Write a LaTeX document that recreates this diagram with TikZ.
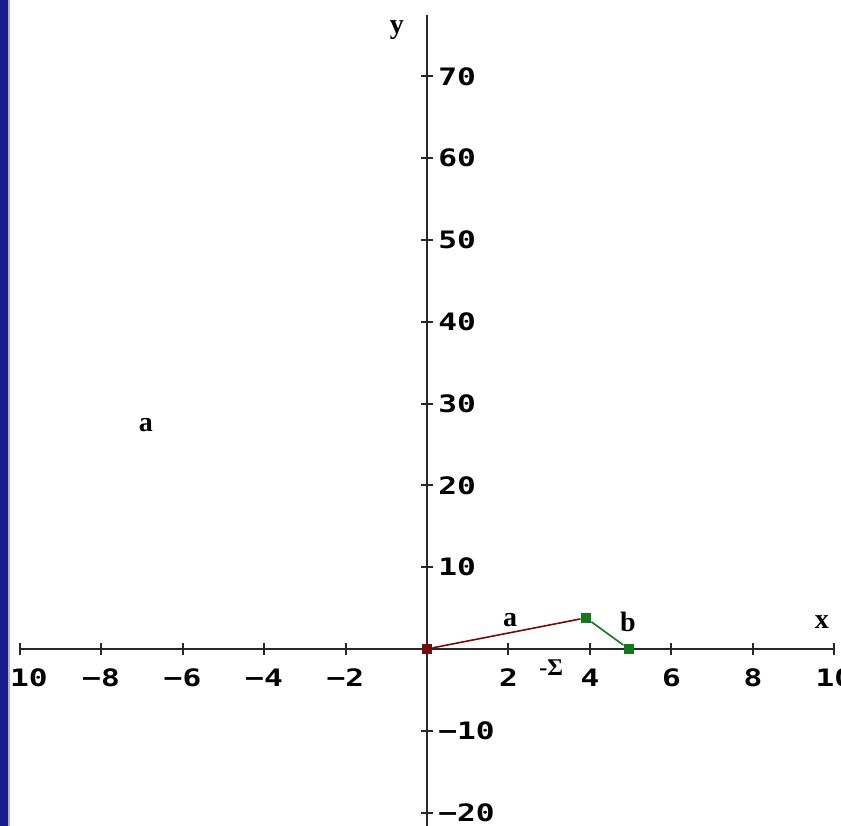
\documentclass[tikz,border=0pt]{standalone}
\usepackage{fontspec}
\usetikzlibrary{positioning}
\newfontfamily\axisfont[FakeStretch=1.3]{DejaVu Sans Mono}
\newfontfamily\varfont{Liberation Serif}
\newcommand\mns{\char"2212\relax}
\definecolor{framblue}{RGB}{22,28,140}
\definecolor{axgray}{RGB}{40,40,40}
\definecolor{vecred}{RGB}{120,10,10}
\definecolor{vecgreen}{RGB}{20,120,30}

\begin{document}
\begin{tikzpicture}[x=20.375pt,y=4.09pt,
  ticklab/.style={font=\axisfont\fontsize{12}{12}\selectfont\bfseries,inner sep=0pt},
  varlab/.style={font=\varfont\fontsize{14}{14}\selectfont\bfseries,inner sep=0pt},
  pt/.style={rectangle,minimum size=5pt,inner sep=0pt}]
\useasboundingbox (-10.479,-21.64) rectangle (10.160,79.34);
% axes
\coordinate (xl) at (-10,0);
\coordinate (xr) at (10,0);
\coordinate (yt) at (0,77.5);
\coordinate (yb) at (0,-21.64);
\draw[axgray,line width=1pt] (xl) -- (xr);
\draw[axgray,line width=1pt] (yb) -- (yt);
\foreach \i in {-10,-8,...,10}
  \draw[axgray,line width=1pt] (\i,0) ++(0,-3pt) -- ++(0,6pt);
\foreach \i in {-10,-8,-6,-4,-2,2,4,6,8,10}
  \node[ticklab] (tx\i) at (\i,-3.55) {\ifnum\i<0 \mns\fi\the\numexpr\ifnum\i<0 -\fi\i\relax};
\foreach \j in {-20,-10,10,20,...,70}
  \draw[axgray,line width=1pt] (0,\j) ++(-3pt,0) -- ++(6pt,0);
\foreach \j in {-20,-10,10,20,...,70}
  \node[ticklab,anchor=west] (ty\j) at (0.27,\j) {\ifnum\j<0 \mns\fi\the\numexpr\ifnum\j<0 -\fi\j\relax};
\node[varlab] (xlab) at (9.69,3.3) {x};
\node[varlab] (ylab) at (-0.74,75.6) {y};
% vectors
\node[pt,fill=vecred]   (o) at (0,0)     {};
\node[pt,fill=vecgreen] (p) at (3.9,3.8) {};
\node[pt,fill=vecgreen] (q) at (4.95,0)  {};
\draw[vecred,line width=0.8pt] (o) -- (p);
\draw[vecgreen,line width=0.8pt] (p) -- (q);
\node[varlab] (alab) at (2.04,3.55) {a};
\node[varlab] (blab) at (4.93,3.3) {b};
\node[varlab] (afree) at (-6.9,27.4) {a};
\node[font=\varfont\fontsize{12}{12}\selectfont\bfseries,inner sep=0pt] (sig) at (3.05,-2.3) {-\char"03A3\relax};
% window frame
\fill[framblue] (-10.479,-21.64) rectangle (-10.283,79.34);
\fill[gray!60] (-10.283,-21.64) rectangle (-10.24,79.34);
\end{tikzpicture}
\end{document}
